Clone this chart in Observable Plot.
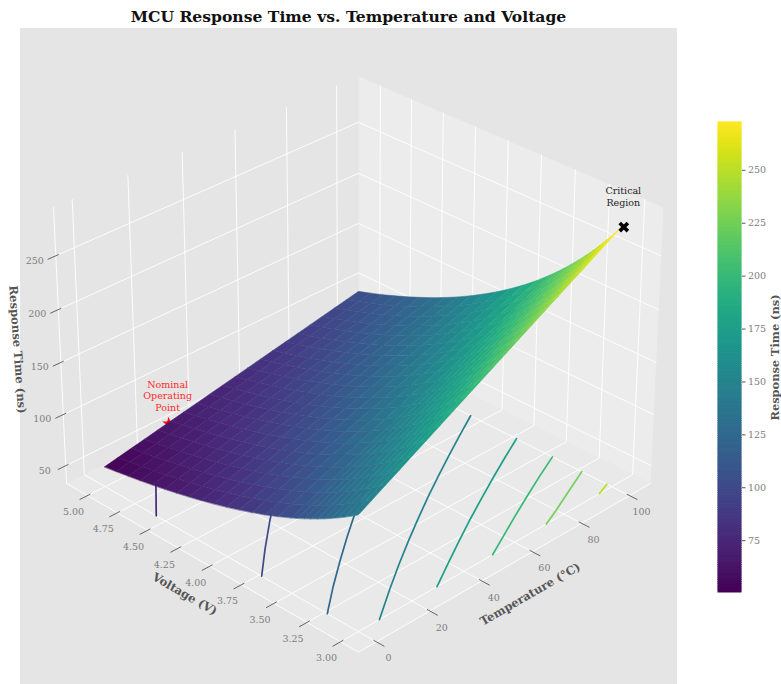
<!DOCTYPE html>
<html><head><meta charset="utf-8">
<script src="https://cdn.jsdelivr.net/npm/d3@7"></script>
<script src="https://cdn.jsdelivr.net/npm/@observablehq/plot@0.6"></script>
<style>
html,body{margin:0;padding:0;background:#fff}
#wrap{position:relative;width:781px;height:684px;overflow:hidden;font-family:"DejaVu Serif",serif}
#axesbg{position:absolute;left:20px;top:28px;width:657px;height:656px;background:#e5e5e5}
#title{position:absolute;left:20px;top:7px;width:657px;text-align:center;font-weight:bold;font-size:15.6px;line-height:20px;color:#111}
#main,#bar{position:absolute;top:0}
#main{left:0}#bar{left:700px}
svg{background:transparent!important;display:block}
</style></head><body>
<div id="wrap"><div id="axesbg"></div><div id="title">MCU Response Time vs. Temperature and Voltage</div><div id="main"></div><div id="bar"></div></div>
<script>
// ---- values ----
const temperatures=[0,5,10,15,20,25,30,35,40,45,50,55,60,65,70,75,80,85,90,95,100];
const voltages=[3,3.05,3.1,3.15,3.2,3.25,3.3,3.35,3.4,3.45,3.5,3.6,3.7,3.8,3.9,4,4.1,4.2,4.3,4.4,4.5,4.6,4.7,4.8,4.9,5];
const responseRows=[
[140.9,147.8,154.8,161.7,168.7,175.6,182.5,189.5,196.4,203.4,210.3,217.3,224.2,231.2,238.1,245.0,252.0,258.9,265.9,272.8,279.8],
[136.4,143.1,149.8,156.5,163.2,170.0,176.7,183.4,190.1,196.8,203.6,210.3,217.0,223.7,230.4,237.2,243.9,250.6,257.3,264.0,270.8],
[132.1,138.6,145.1,151.6,158.1,164.6,171.1,177.6,184.1,190.6,197.1,203.6,210.1,216.6,223.1,229.6,236.1,242.6,249.1,255.6,262.1],
[128.0,134.3,140.6,146.9,153.2,159.5,165.8,172.1,178.4,184.7,191.0,197.3,203.6,209.9,216.2,222.5,228.8,235.1,241.4,247.7,254.0],
[124.1,130.2,136.3,142.4,148.5,154.6,160.7,166.8,172.9,179.0,185.1,191.2,197.3,203.4,209.5,215.6,221.7,227.8,233.9,240.0,246.1],
[120.3,126.3,132.2,138.1,144.0,149.9,155.8,161.8,167.7,173.6,179.5,185.4,191.3,197.2,203.2,209.1,215.0,220.9,226.8,232.7,238.7],
[116.8,122.5,128.3,134.0,139.7,145.5,151.2,157.0,162.7,168.4,174.2,179.9,185.6,191.4,197.1,202.9,208.6,214.3,220.1,225.8,231.6],
[113.4,119.0,124.5,130.1,135.7,141.2,146.8,152.4,157.9,163.5,169.1,174.6,180.2,185.8,191.3,196.9,202.5,208.0,213.6,219.2,224.8],
[110.1,115.5,120.9,126.3,131.8,137.2,142.6,148.0,153.4,158.8,164.2,169.6,175.0,180.4,185.8,191.2,196.6,202.0,207.4,212.8,218.3],
[107.0,112.3,117.5,122.8,128.0,133.3,138.5,143.8,149.0,154.3,159.5,164.8,170.0,175.3,180.5,185.8,191.0,196.3,201.5,206.8,212.0],
[104.0,109.1,114.2,119.3,124.4,129.6,134.7,139.8,144.9,150.0,155.1,160.2,165.3,170.4,175.5,180.6,185.7,190.8,195.9,201.0,206.1],
[98.5,103.3,108.1,112.9,117.7,122.6,127.4,132.2,137.0,141.9,146.7,151.5,156.3,161.2,166.0,170.8,175.6,180.4,185.3,190.1,194.9],
[93.3,97.9,102.4,107.0,111.6,116.1,120.7,125.3,129.8,134.4,139.0,143.5,148.1,152.7,157.2,161.8,166.4,170.9,175.5,180.1,184.6],
[88.6,92.9,97.2,101.6,105.9,110.2,114.5,118.9,123.2,127.5,131.8,136.2,140.5,144.8,149.2,153.5,157.8,162.1,166.5,170.8,175.1],
[84.2,88.3,92.4,96.5,100.6,104.7,108.8,112.9,117.1,121.2,125.3,129.4,133.5,137.6,141.7,145.8,149.9,154.0,158.1,162.3,166.4],
[80.1,84.0,87.9,91.8,95.8,99.7,103.6,107.5,111.4,115.3,119.2,123.1,127.0,130.9,134.8,138.7,142.6,146.5,150.4,154.3,158.3],
[76.4,80.1,83.8,87.5,91.2,95.0,98.7,102.4,106.1,109.8,113.5,117.2,121.0,124.7,128.4,132.1,135.8,139.5,143.3,147.0,150.7],
[72.9,76.4,79.9,83.5,87.0,90.6,94.1,97.7,101.2,104.7,108.3,111.8,115.4,118.9,122.5,126.0,129.5,133.1,136.6,140.2,143.7],
[69.6,73.0,76.4,79.7,83.1,86.5,89.9,93.3,96.6,100.0,103.4,106.8,110.2,113.5,116.9,120.3,123.7,127.1,130.4,133.8,137.2],
[66.6,69.8,73.0,76.3,79.5,82.7,86.0,89.2,92.4,95.6,98.9,102.1,105.3,108.5,111.8,115.0,118.2,121.5,124.7,127.9,131.1],
[63.7,66.8,69.9,73.0,76.1,79.2,82.3,85.3,88.4,91.5,94.6,97.7,100.8,103.9,107.0,110.0,113.1,116.2,119.3,122.4,125.5],
[61.1,64.0,67.0,69.9,72.9,75.8,78.8,81.7,84.7,87.6,90.6,93.5,96.5,99.4,102.4,105.3,108.3,111.3,114.2,117.2,120.1],
[58.6,61.4,64.2,67.1,69.9,72.7,75.6,78.4,81.2,84.0,86.9,89.7,92.5,95.4,98.2,101.0,103.9,106.7,109.5,112.3,115.2],
[56.3,59.0,61.7,64.4,67.1,69.8,72.5,75.2,78.0,80.7,83.4,86.1,88.8,91.5,94.2,96.9,99.6,102.4,105.1,107.8,110.5],
[54.1,56.7,59.3,61.9,64.5,67.1,69.7,72.3,74.9,77.5,80.1,82.7,85.3,87.9,90.5,93.1,95.7,98.3,100.9,103.5,106.1],
[52.0,54.5,57.0,59.5,62.0,64.5,67.0,69.5,72.0,74.5,77.0,79.5,82.0,84.5,87.0,89.5,92.0,94.5,97.0,99.5,102.0]];
const contourLevels=[75,100,125,150,175,200,225,250];
const contourLines=[
[[0,4.575],[3,4.643],[6,4.71],[10,4.8],[15,4.906],[19.5,5]],
[[0,3.733],[10,3.916],[20,4.09],[30,4.257],[40,4.418],[60,4.72],[79,4.995]],
[[0,3.232],[10,3.391],[20,3.541],[30,3.686],[40,3.825],[60,4.09],[80,4.337],[100,4.571]],
[[7.8,3],[20,3.163],[30,3.292],[40,3.416],[50,3.536],[60,3.652],[70,3.764],[80,3.873],[90,3.979],[100,4.083]],
[[29.6,3],[40,3.115],[50,3.224],[60,3.33],[70,3.432],[80,3.532],[90,3.629],[100,3.723]],
[[51.3,3],[60,3.083],[70,3.178],[80,3.27],[90,3.36],[100,3.446]],
[[72.9,3],[80,3.056],[90,3.14],[100,3.223]],
[[94.9,3],[100,3.036]]];
const temperatureTicks=[0,20,40,60,80,100];
const voltageTicks=[3,3.25,3.5,3.75,4,4.25,4.5,4.75,5];
const responseTicks=[50,100,150,200,250];
const colorbarTicks=[75,100,125,150,175,200,225,250];
const temperatureLimits=[-6.58,108.89];
const voltageLimits=[2.868,5.178];
const responseLimits=[32.4,294.2];
const colorDomain=[50.5,272.6];
const nominalPoint={T:25,V:5,R:65,label:"Nominal\nOperating\nPoint"};
const criticalPoint={T:100,V:3,R:279,label:"Critical\nRegion"};

// ---- 3D view, the same kind of perspective the picture was drawn with ----
const [T0,T1]=temperatureLimits,[V0,V1]=voltageLimits,[R0,R1]=responseLimits;
function project(T,V,R){
  const s=(T-T0)/(T1-T0),r=(V-V0)/(V1-V0),w=(R-R0)/(R1-R0);
  const D=1+0.0813*(s+r)-0.0461*w;
  return {px:358+315.7*(s-r)/D,py:(651.7-129.4*(s+r)-308*w)/D};
}
const P=(T,V,R,extra={})=>({...project(T,V,R),...extra});

// panes
const panes=[
 {id:"left",shade:"#e5e5e5",pts:[[T0,V1,R0],[T1,V1,R0],[T1,V1,R1],[T0,V1,R1]]},
 {id:"right",shade:"#ececec",pts:[[T1,V0,R0],[T1,V1,R0],[T1,V1,R1],[T1,V0,R1]]},
 {id:"floor",shade:"#e9e9e9",pts:[[T0,V0,R0],[T1,V0,R0],[T1,V1,R0],[T0,V1,R0]]}
].flatMap(p=>p.pts.map(q=>P(...q,{id:p.id,shade:p.shade})));

// gridlines and the three white axis edges
const grid=[];
temperatureTicks.forEach(t=>[[t,V0,R0],[t,V1,R0],[t,V1,R1]].forEach(q=>grid.push(P(...q,{id:"T"+t}))));
voltageTicks.forEach(v=>[[T0,v,R0],[T1,v,R0],[T1,v,R1]].forEach(q=>grid.push(P(...q,{id:"V"+v}))));
responseTicks.forEach(z=>[[T0,V1,z],[T1,V1,z],[T1,V0,z]].forEach(q=>grid.push(P(...q,{id:"R"+z}))));
[[T1,V0,R0],[T0,V0,R0],[T0,V1,R0],[T0,V1,R1]].forEach(q=>grid.push(P(...q,{id:"edge"})));

// tick marks
const dV=V1-V0,dT=T1-T0,tickIn=0.008,tickOut=0.024;
const tickSegs=[];
temperatureTicks.forEach(t=>{tickSegs.push(P(t,V0+tickIn*dV,R0,{id:"T"+t}),P(t,V0-tickOut*dV,R0,{id:"T"+t}));});
voltageTicks.forEach(v=>{tickSegs.push(P(T0+tickIn*dT,v,R0,{id:"V"+v}),P(T0-tickOut*dT,v,R0,{id:"V"+v}));});
responseTicks.forEach(z=>{tickSegs.push(P(T0+tickIn*dT,V1,z,{id:"R"+z}),P(T0-tickOut*dT,V1,z,{id:"R"+z}));});

// contours on the floor
const contourData=contourLines.flatMap((line,i)=>line.map(([t,v])=>P(t,v,R0,{level:contourLevels[i]})));

// surface cells, far to near
const cells=[];
for(let i=0;i<voltages.length-1;i++)for(let j=0;j<temperatures.length-1;j++)cells.push([i,j]);
cells.sort((a,b)=>(b[0]/voltages.length+b[1]/temperatures.length)-(a[0]/voltages.length+a[1]/temperatures.length));
const surface=cells.flatMap(([i,j],n)=>{
  const c=[[i,j],[i,j+1],[i+1,j+1],[i+1,j]];
  const value=d3.mean(c,([a,b])=>responseRows[a][b]);
  return c.map(([a,b])=>P(temperatures[b],voltages[a],responseRows[a][b],{cell:n,value}));
});

const font="DejaVu Serif";
const tickColor="#7d7d7d",labelColor="#555";
const edgeT=temperatureTicks.map(t=>P(t,V0,R0,{t:String(t)}));
const edgeV=voltageTicks.map(v=>P(T0,v,R0,{t:v.toFixed(2)}));
const edgeR=responseTicks.map(z=>P(T0,V1,z,{t:String(z)}));
const nomP=P(nominalPoint.T,nominalPoint.V,nominalPoint.R,{t:nominalPoint.label});
const critP=P(criticalPoint.T,criticalPoint.V,criticalPoint.R,{t:criticalPoint.label});
const axisTitle=(pts,text,rotate,dx,dy)=>Plot.text(pts,{x:"px",y:"py",text:()=>text,rotate,dx,dy,fontSize:11.6,fontWeight:"bold",fill:labelColor,fontFamily:font,textAnchor:"middle",lineAnchor:"middle"});

const main=Plot.plot({
  width:781,height:684,margin:0,
  x:{domain:[0,781],axis:null},
  y:{domain:[684,0],axis:null},
  color:{type:"linear",domain:colorDomain,interpolate:d3.interpolateViridis,clamp:true},
  style:{fontFamily:font,background:"transparent"},
  marks:[
    Plot.line(panes,{x:"px",y:"py",z:"id",fill:d=>d.shade,curve:"linear-closed",stroke:null}),
    Plot.line(grid,{x:"px",y:"py",z:"id",stroke:"#fff",strokeWidth:0.9}),
    Plot.line(tickSegs,{x:"px",y:"py",z:"id",stroke:"#555",strokeWidth:0.9}),
    Plot.line(contourData,{x:"px",y:"py",z:"level",stroke:"level",strokeWidth:1.7}),
    Plot.dot([nomP],{x:"px",y:"py",symbol:"star",fill:"#f00",stroke:"#f00",r:2.6,dx:-2,dy:3}),
    Plot.line(surface,{x:"px",y:"py",z:"cell",fill:"value",stroke:"value",strokeWidth:0.5,curve:"linear-closed"}),
    Plot.text(edgeT,{x:"px",y:"py",text:"t",dx:12,dy:16.5,fontSize:9.5,fill:tickColor,fontFamily:font,textAnchor:"middle",lineAnchor:"middle"}),
    Plot.text(edgeV,{x:"px",y:"py",text:"t",dx:-14,dy:16.5,fontSize:9.5,fill:tickColor,fontFamily:font,textAnchor:"middle",lineAnchor:"middle"}),
    Plot.text(edgeR,{x:"px",y:"py",text:"t",dx:-21,dy:4.8,fontSize:9.5,fill:tickColor,fontFamily:font,textAnchor:"middle",lineAnchor:"middle"}),
    axisTitle([P(50,V0,R0)],"Temperature (°C)",-30,23,28),
    axisTitle([P(T0,4,R0)],"Voltage (V)",30,-25,28),
    axisTitle([P(T0,V1,150)],"Response Time (ns)",86,-43.5,-13),
    Plot.text([nomP],{x:"px",y:"py",text:"t",dx:-3,dy:-25,fontSize:9.5,fill:"#ff2a2a",fontFamily:font,lineHeight:1.2,textAnchor:"middle",lineAnchor:"middle"}),
    Plot.dot([critP],{x:"px",y:"py",symbol:"times",stroke:"#000",strokeWidth:3.6,r:3.8,dx:1.5}),
    Plot.text([critP],{x:"px",y:"py",text:"t",dx:1,dy:-30.5,fontSize:9.5,fill:"#222",fontFamily:font,lineHeight:1.2,textAnchor:"middle",lineAnchor:"middle"})
  ]
});
document.getElementById("main").append(main);

const stops=d3.range(colorDomain[0],colorDomain[1],1).map(v=>({v,v2:Math.min(v+1,colorDomain[1])}));
const bar=Plot.plot({
  width:81,height:684,marginTop:122,marginBottom:92,marginLeft:18,marginRight:40,
  x:{domain:[0,1],axis:null},
  y:{domain:colorDomain,axis:null},
  color:{type:"linear",domain:colorDomain,interpolate:d3.interpolateViridis},
  style:{fontFamily:font,background:"transparent"},
  marks:[
    Plot.rect(stops,{x1:()=>0,x2:()=>1,y1:"v",y2:"v2",fill:"v",stroke:"v",strokeWidth:1}),
    Plot.axisY(colorbarTicks,{anchor:"right",tickSize:3.5,tickPadding:3,fontSize:9.5,fill:tickColor,stroke:"#555",label:null,fontFamily:font}),
    Plot.text(["Response Time (ns)"],{frameAnchor:"right",dx:34,rotate:-90,fontSize:11.4,fontWeight:"bold",fill:labelColor,fontFamily:font,textAnchor:"middle",lineAnchor:"middle"})
  ]
});
document.getElementById("bar").append(bar);
</script>
</body></html>
